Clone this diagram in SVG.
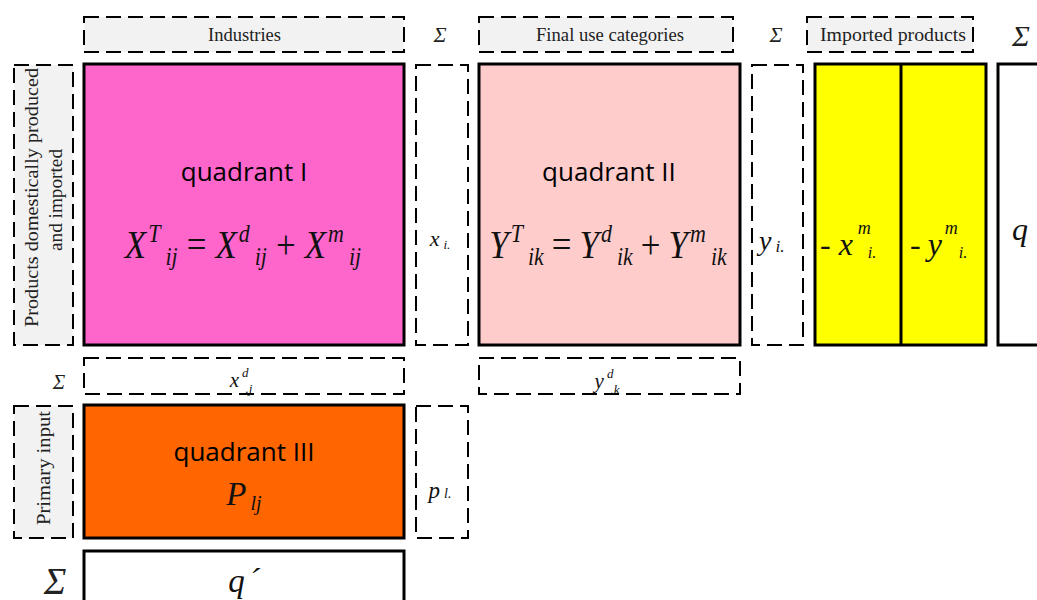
<svg xmlns="http://www.w3.org/2000/svg" width="1037" height="600" viewBox="0 0 1037 600">
<style>
.dash{fill:#ffffff;stroke:#000;stroke-width:2;stroke-dasharray:15 7}
.dashg{fill:#f2f2f2;stroke:#000;stroke-width:2;stroke-dasharray:15 7}
.solid{stroke:#000;stroke-width:3}
.lbl{font-family:"Liberation Serif",serif;font-size:18px;fill:#222}
.quad{font-family:"Open Sans","Liberation Sans",sans-serif;font-size:26px;fill:#000}
.math{font-family:"Liberation Serif",serif;font-style:italic;fill:#111}
.up{font-style:normal}
.sig{font-family:"Liberation Serif",serif;font-style:italic;fill:#222}
</style>
<rect width="1037" height="600" fill="#fff"/>
<g id="header-industries"><rect class="dashg" x="84" y="17" width="320" height="35"/><text class="lbl" x="208" y="41" textLength="73" lengthAdjust="spacingAndGlyphs">Industries</text></g>
<g id="sum-1"><text class="sig" x="440" y="42" font-size="22" text-anchor="middle">Σ</text></g>
<g id="header-final"><rect class="dashg" x="479" y="17" width="254" height="35"/><text class="lbl" x="536" y="41" textLength="148" lengthAdjust="spacingAndGlyphs">Final use categories</text></g>
<g id="sum-2"><text class="sig" x="776" y="42" font-size="22" text-anchor="middle">Σ</text></g>
<g id="header-imported"><rect class="dashg" x="807" y="17" width="166" height="35"/><text class="lbl" x="820" y="41" textLength="146" lengthAdjust="spacingAndGlyphs">Imported products</text></g>
<g id="sum-3"><text class="sig" x="1021" y="46" font-size="30" text-anchor="middle">Σ</text></g>

<g id="label-products"><rect class="dashg" x="14" y="65" width="59" height="280"/>
<text class="lbl" transform="translate(38,327) rotate(-90)" textLength="259" lengthAdjust="spacingAndGlyphs" font-size="20">Products domestically produced</text>
<text class="lbl" transform="translate(62,251) rotate(-90)" textLength="102" lengthAdjust="spacingAndGlyphs" font-size="20">and imported</text></g>

<g id="quadrant-1"><rect class="solid" x="84" y="64" width="320" height="281" fill="#ff66cc"/>
<text class="quad" x="244" y="181" text-anchor="middle">quadrant I</text>
<text class="math" transform="translate(243,258) scale(1,1.12)" x="0" y="0" font-size="35" text-anchor="middle">X<tspan font-size="22" dx="2" dy="-14">T</tspan><tspan font-size="22" dx="5" dy="20">ij</tspan><tspan class="up" dx="9" dy="-6">=</tspan><tspan dx="9">X</tspan><tspan font-size="22" dx="2" dy="-14">d</tspan><tspan font-size="22" dx="5" dy="20">ij</tspan><tspan class="up" dx="9" dy="-6">+</tspan><tspan dx="9">X</tspan><tspan font-size="22" dx="2" dy="-14">m</tspan><tspan font-size="22" dx="5" dy="20">ij</tspan></text></g>

<g id="sum-xi"><rect class="dash" x="416" y="65" width="52" height="280"/>
<text class="math" x="440" y="246" font-size="22" text-anchor="middle">x<tspan font-size="13" dx="4" dy="3">i.</tspan></text></g>

<g id="quadrant-2"><rect class="solid" x="479" y="64" width="261" height="281" fill="#ffcccc"/>
<text class="quad" x="609" y="181" text-anchor="middle">quadrant II</text>
<text class="math" transform="translate(608,258) scale(1,1.12)" x="0" y="0" font-size="35" text-anchor="middle">Y<tspan font-size="22" dx="2" dy="-14">T</tspan><tspan font-size="22" dx="5" dy="20">ik</tspan><tspan class="up" dx="8" dy="-6">=</tspan><tspan dx="8">Y</tspan><tspan font-size="22" dx="2" dy="-14">d</tspan><tspan font-size="22" dx="5" dy="20">ik</tspan><tspan class="up" dx="8" dy="-6">+</tspan><tspan dx="8">Y</tspan><tspan font-size="22" dx="2" dy="-14">m</tspan><tspan font-size="22" dx="5" dy="20">ik</tspan></text></g>

<g id="sum-yi"><rect class="dash" x="752" y="65" width="51" height="280"/>
<text class="math" x="759" y="250" font-size="28">y<tspan font-size="17" dx="4" dy="2">i.</tspan></text></g>

<g id="imported"><rect class="solid" x="815" y="64" width="171" height="281" fill="#ffff00"/>
<line class="solid" x1="901" y1="64" x2="901" y2="345"/>
<text class="math" x="820" y="255" font-size="32"><tspan class="up">-</tspan><tspan dx="8">x</tspan><tspan font-size="18" dx="5" dy="-21">m</tspan><tspan font-size="16" dx="-3" dy="24">i.</tspan></text>
<text class="math" x="910" y="255" font-size="32"><tspan class="up">-</tspan><tspan dx="7">y</tspan><tspan font-size="18" dx="3" dy="-21">m</tspan><tspan font-size="16" dx="1" dy="24">i.</tspan></text></g>

<g id="total-q"><rect class="solid" x="998" y="64" width="50" height="281" fill="#fff"/>
<text class="math" x="1020" y="240" font-size="32" text-anchor="middle">q</text></g>

<g id="sum-row"><text class="sig" x="59" y="389" font-size="21" text-anchor="middle">Σ</text></g>
<g id="sum-xd"><rect class="dash" x="84" y="358" width="320" height="36"/>
<text class="math" x="241" y="387" font-size="21" text-anchor="middle">x<tspan font-size="13" dx="3" dy="-10">d</tspan><tspan font-size="13" dx="-3" dy="16">.j</tspan></text></g>
<g id="sum-yd"><rect class="dash" x="479" y="358" width="261" height="36"/>
<text class="math" x="607" y="388" font-size="21" text-anchor="middle">y<tspan font-size="13" dx="3" dy="-10">d</tspan><tspan font-size="13" dx="-3" dy="16">.k</tspan></text></g>

<g id="label-primary"><rect class="dashg" x="14" y="406" width="59" height="132"/>
<text class="lbl" transform="translate(50,525) rotate(-90)" textLength="114" lengthAdjust="spacingAndGlyphs" font-size="20">Primary input</text></g>

<g id="quadrant-3"><rect class="solid" x="84" y="405" width="320" height="133" fill="#ff6600"/>
<text class="quad" x="244" y="461" text-anchor="middle">quadrant III</text>
<text class="math" x="244" y="505" font-size="33" text-anchor="middle">P<tspan font-size="20" dx="4" dy="5">lj</tspan></text></g>

<g id="sum-pl"><rect class="dash" x="416" y="406" width="52" height="132"/>
<text class="math" x="440" y="498" font-size="23" text-anchor="middle">p<tspan font-size="14" dx="4" dy="0">l.</tspan></text></g>

<g id="sum-col"><text class="sig" x="55" y="594" font-size="38" text-anchor="middle">Σ</text></g>
<g id="total-q-prime"><rect class="solid" x="84" y="551" width="320" height="60" fill="#fff"/>
<text class="math" x="244" y="592" font-size="33" text-anchor="middle">q<tspan dx="4">´</tspan></text></g>
<g id="connectors"></g>
</svg>
